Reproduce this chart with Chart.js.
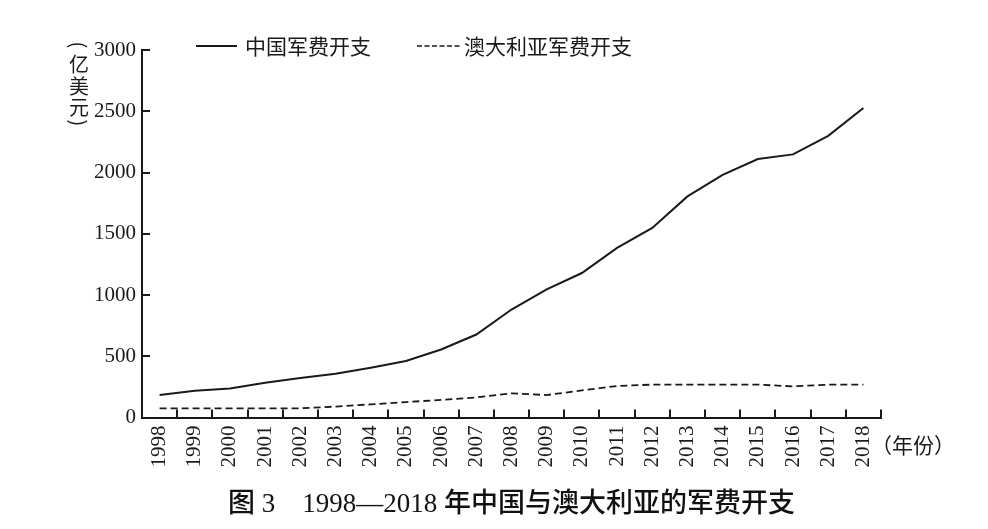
<!DOCTYPE html>
<html>
<head>
<meta charset="utf-8">
<script src="https://cdn.jsdelivr.net/npm/chart.js@4"></script>
<style>
  html, body { margin: 0; padding: 0; background: #fff; }
  #wrap { width: 988px; height: 529px; }
</style>
</head>
<body>
<div id="wrap"><canvas id="spendChart" width="988" height="529"></canvas></div>
<script>
var years = ['1998', '1999', '2000', '2001', '2002', '2003', '2004', '2005', '2006', '2007',
             '2008', '2009', '2010', '2011', '2012', '2013', '2014', '2015', '2016', '2017', '2018'];
var chinaSpend = [184, 220, 237, 285, 323, 358, 407, 462, 556, 678,
                  882, 1046, 1180, 1385, 1548, 1805, 1981, 2110, 2148, 2299, 2526];
var australiaSpend = [76, 76, 76, 76, 76, 90, 108, 127, 144, 165,
                      198, 184, 222, 258, 269, 269, 269, 269, 255, 269, 269];
var seriesNames = ['中国军费开支', '澳大利亚军费开支'];
var yTicks = [0, 500, 1000, 1500, 2000, 2500, 3000];

var INK = '#1a1a1a';
var SERIF = '"Liberation Serif", "Times New Roman", serif';
var CJK = '"Noto Sans CJK SC", "Noto Sans", sans-serif';

// inward tick marks, legend and axis unit labels
var extras = {
    id: 'extras',
    afterDraw: function (chart) {
        var ctx = chart.ctx;
        var a = chart.chartArea;
        var x = chart.scales.x;
        var y = chart.scales.y;
        ctx.save();
        ctx.strokeStyle = INK;
        ctx.lineWidth = 2;
        ctx.beginPath();
        yTicks.forEach(function (v) {
            var py = Math.round(y.getPixelForValue(v));
            ctx.moveTo(a.left, py);
            ctx.lineTo(a.left + 8, py);
        });
        for (var i = 1; i <= years.length; i++) {
            var px = i < years.length ? (x.getPixelForValue(i - 1) + x.getPixelForValue(i)) / 2 : a.right;
            px = Math.round(px);
            ctx.moveTo(px, a.bottom);
            ctx.lineTo(px, a.bottom - 8);
        }
        ctx.stroke();

        // legend
        var ly = a.top - 4;
        ctx.lineWidth = 2;
        ctx.beginPath();
        ctx.moveTo(a.left + 54, ly);
        ctx.lineTo(a.left + 95, ly);
        ctx.stroke();
        ctx.lineWidth = 1.6;
        ctx.setLineDash([5, 2.5]);
        ctx.beginPath();
        ctx.moveTo(a.left + 275, ly);
        ctx.lineTo(a.left + 318, ly);
        ctx.stroke();
        ctx.setLineDash([]);
        ctx.fillStyle = INK;
        ctx.font = '21px ' + CJK;
        ctx.textBaseline = 'middle';
        ctx.textAlign = 'left';
        ctx.fillText(seriesNames[0], a.left + 103, ly);
        ctx.fillText(seriesNames[1], a.left + 322, ly);

        // y unit, written vertically; brackets turned on their side
        ctx.font = '20px ' + CJK;
        ctx.textAlign = 'center';
        var cx = 79;
        var chars = ['(', '亿', '美', '元', ')'];
        var ys = [45, 64, 86, 107, 123];
        chars.forEach(function (c, k) {
            if (c === '(' || c === ')') {
                ctx.save();
                ctx.translate(cx, ys[k]);
                ctx.rotate(Math.PI / 2);
                ctx.fillText(c, 0, 0);
                ctx.restore();
            } else {
                ctx.fillText(c, cx, ys[k]);
            }
        });

        // x unit
        ctx.font = '21px ' + CJK;
        ctx.textAlign = 'left';
        ctx.fillText('（年份）', a.right - 10, a.bottom + 27);
        ctx.restore();
    }
};

var ctx = document.getElementById('spendChart').getContext('2d');
var spendChart = new Chart(ctx, {
    type: 'line',
    data: {
        labels: years,
        datasets: [{
            label: seriesNames[0],
            data: chinaSpend,
            borderColor: INK,
            borderWidth: 2,
            pointRadius: 0,
            tension: 0,
            fill: false
        }, {
            label: seriesNames[1],
            data: australiaSpend,
            borderColor: INK,
            borderWidth: 1.8,
            borderDash: [7, 4],
            pointRadius: 0,
            tension: 0,
            fill: false
        }]
    },
    options: {
        responsive: false,
        animation: false,
        devicePixelRatio: 1,
        layout: {
            padding: { top: 50, right: 107, left: 0, bottom: 0 }
        },
        scales: {
            x: {
                offset: true,
                grid: { display: false, offset: true, drawTicks: false },
                border: { display: true, color: INK, width: 2 },
                ticks: {
                    autoSkip: false,
                    minRotation: 90,
                    maxRotation: 90,
                    padding: 8,
                    color: INK,
                    font: { family: SERIF, size: 21 }
                },
                afterFit: function (s) { s.height = 60; }
            },
            y: {
                min: 0,
                max: 3000,
                afterBuildTicks: function (s) {
                    s.ticks = yTicks.map(function (v) { return { value: v }; });
                },
                grid: { display: false, drawTicks: false },
                border: { display: true, color: INK, width: 2 },
                ticks: {
                    padding: 6,
                    color: INK,
                    font: { family: SERIF, size: 21 },
                    callback: function (value) { return String(value); }
                },
                afterFit: function (s) { s.width = 142; }
            }
        },
        plugins: {
            legend: { display: false },
            tooltip: { enabled: false },
            title: {
                display: true,
                position: 'bottom',
                fullSize: false,
                text: '图 3　1998—2018 年中国与澳大利亚的军费开支',
                color: '#111',
                font: { family: SERIF + ', ' + CJK, size: 27, weight: '500' },
                padding: { top: 11, bottom: 8 }
            }
        }
    },
    plugins: [extras]
});
</script>
</body>
</html>
